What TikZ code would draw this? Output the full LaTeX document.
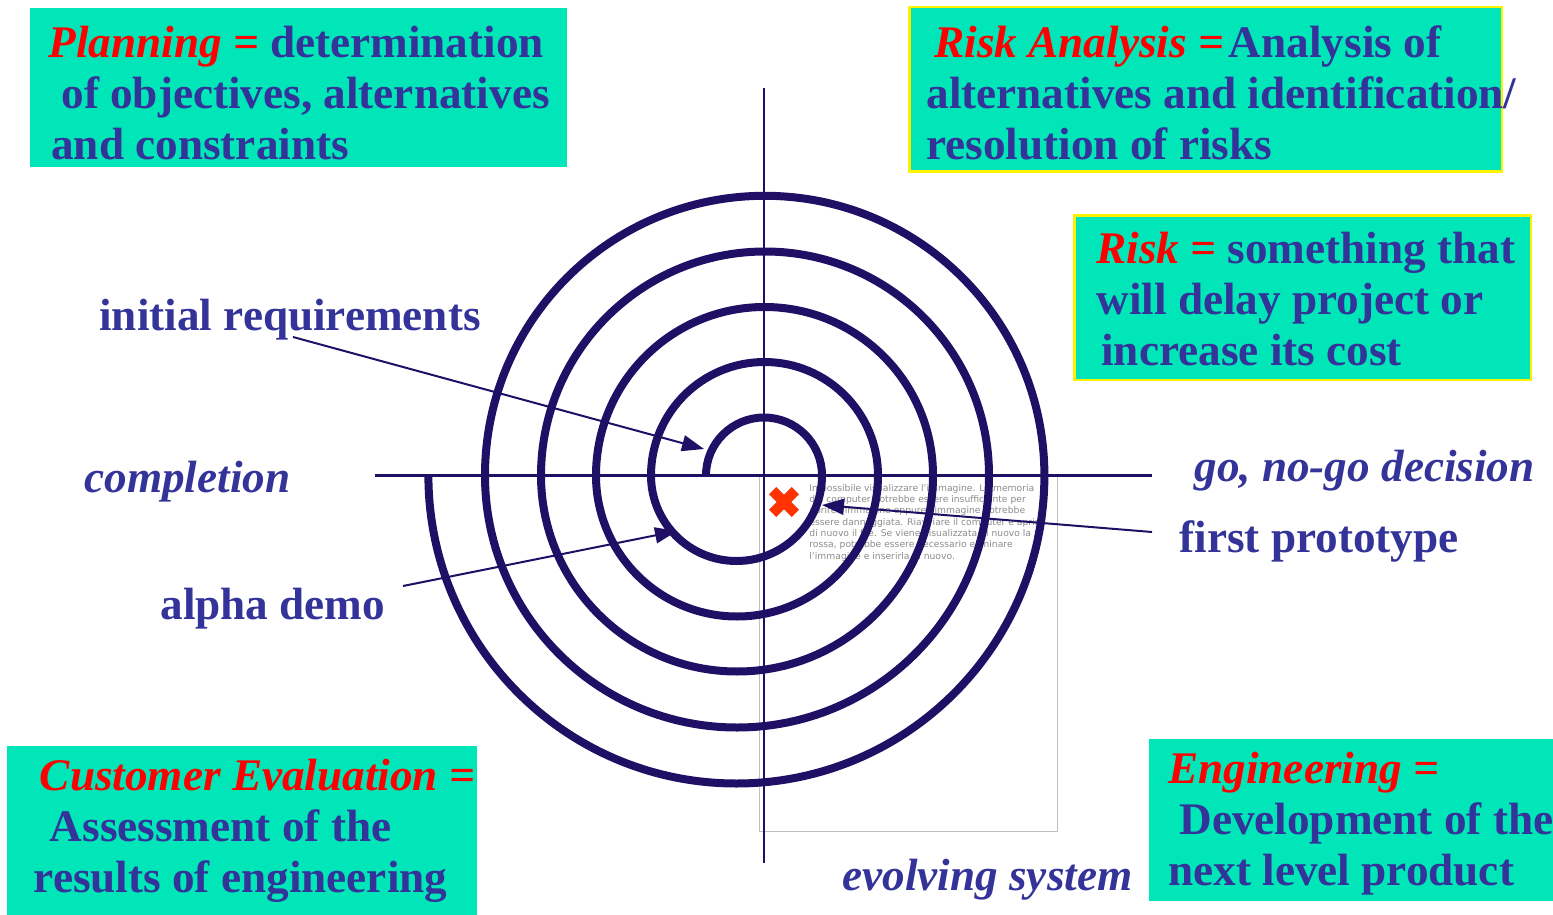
\documentclass[tikz,border=0pt]{standalone}
\usepackage{fontspec}
\setmainfont{Liberation Serif}
\setsansfont{DejaVu Sans}
\usetikzlibrary{arrows.meta}
\definecolor{boxgreen}{RGB}{0,230,184}
\definecolor{textblue}{RGB}{51,51,153}
\definecolor{termred}{RGB}{255,0,0}
\definecolor{spiralblue}{RGB}{31,16,102}
\definecolor{xred}{RGB}{255,51,0}
\newcommand{\term}[1]{\textcolor{termred}{\textit{#1}}}
\tikzset{
	box/.style={fill=boxgreen,anchor=north west,inner sep=0pt},
	yellowbox/.style={box,draw=yellow,line width=1.25pt},
	label/.style={text=textblue,font=\fontsize{22.6}{25.5}\selectfont\bfseries,anchor=base west,inner sep=0pt,align=left},
	arrowline/.style={spiralblue,line width=1pt,-{Triangle[length=11pt,width=8pt]}}
}
\begin{document}
\begin{tikzpicture}[x=.5pt,y=-.5pt]
	\useasboundingbox (0,0) rectangle (1553,915);
	%missing image frame
	\node[draw=black!25,line width=.5pt,minimum width=149pt,minimum height=177.5pt,anchor=north west,inner sep=0pt] (frame) at (758.5,476) {};
	\node[text=black!45,font=\sffamily\fontsize{4.6}{5.65}\selectfont,anchor=north west,inner sep=0pt,align=left] (missing) at (809,484) {Impossibile visualizzare l'immagine. La memoria\\del computer potrebbe essere insufficiente per\\aprire l'immagine oppure l'immagine potrebbe\\essere danneggiata. Riavviare il computer e aprire\\di nuovo il file. Se viene visualizzata di nuovo la x\\rossa, potrebbe essere necessario eliminare\\l'immagine e inserirla di nuovo.};
	\coordinate (xmark) at (784,502);
	\foreach \a in {45,135}
		\draw[black!40,line width=5pt,shift={(1,2.5)}] (xmark) ++(\a:16) -- ++(\a:-32);
	\foreach \a in {45,135}
		\draw[xred,line width=5pt] (xmark) ++(\a:16) -- ++(\a:-32);
	%axes
	\coordinate (north) at (764,88);
	\coordinate (south) at (764,863);
	\coordinate (west) at (375,475.5);
	\coordinate (east) at (1152,475.5);
	\draw[spiralblue,line width=1.4pt] (north) -- (south);
	\draw[spiralblue,line width=1.4pt] (west) -- (east);
	%spiral
	\coordinate (start) at (706,475.5);
	\draw[spiralblue,line width=4pt] (start)
		\foreach \up/\low in {58/85.5,113.5/141,168.5/196,224/252,279.7/308}
			{arc (180:360:\up) arc (0:180:\low)};
	%boxes
	\node[box,minimum width=268.5pt,minimum height=79.5pt] (planbox) at (30,8) {};
	\node[yellowbox,minimum width=296.25pt,minimum height=82.25pt] (analysisbox) at (908,6) {};
	\node[yellowbox,minimum width=228.25pt,minimum height=82.25pt] (riskbox) at (1073,214) {};
	\node[box,minimum width=235pt,minimum height=84.5pt] (evalbox) at (7,746) {};
	\node[box,minimum width=202pt,minimum height=81pt] (engbox) at (1149,739) {};
	%box texts
	\node[label] (plantext) at (48,159.5) {\term{Planning =} determination\\\hspace*{6.5pt}of objectives, alternatives\\\hspace*{1.5pt}and constraints};
	\node[label] (analysistext) at (926,159.5) {\hspace*{4pt}\term{Risk Analysis =}\hspace*{2.5pt}Analysis of\\alternatives and identification/\\resolution of risks};
	\node[label] (risktext) at (1096,365.5) {\term{Risk =} something that\\will delay project or\\\hspace*{2.5pt}increase its cost};
	\node[label] (evaltext) at (33.5,892.5) {\hspace*{3pt}\term{Customer Evaluation =}\\\hspace*{8pt}Assessment of the\\results of engineering};
	\node[label] (engtext) at (1168,885.5) {\term{Engineering =}\\\hspace*{5.5pt}Development of the\\next level product};
	%labels
	\node[label] (initreq) at (99,330) {initial requirements};
	\node[label] (completion) at (84,492.5) {\textit{completion}};
	\node[label] (alpha) at (160,619.5) {alpha demo};
	\node[label] (decision) at (1194,481.5) {\textit{go, no-go decision}};
	\node[label] (proto) at (1179,552.5) {first prototype};
	\node[label] (evolving) at (842,890) {\textit{evolving system}};
	%arrows
	\coordinate (initfrom) at (293,337);
	\coordinate (initto) at (704,449);
	\coordinate (alphafrom) at (403,586);
	\coordinate (alphato) at (677,531);
	\coordinate (protofrom) at (1152,532);
	\coordinate (prototo) at (822,505);
	\draw[arrowline] (initfrom) -- (initto);
	\draw[arrowline] (alphafrom) -- (alphato);
	\draw[arrowline] (protofrom) -- (prototo);
\end{tikzpicture}
\end{document}
